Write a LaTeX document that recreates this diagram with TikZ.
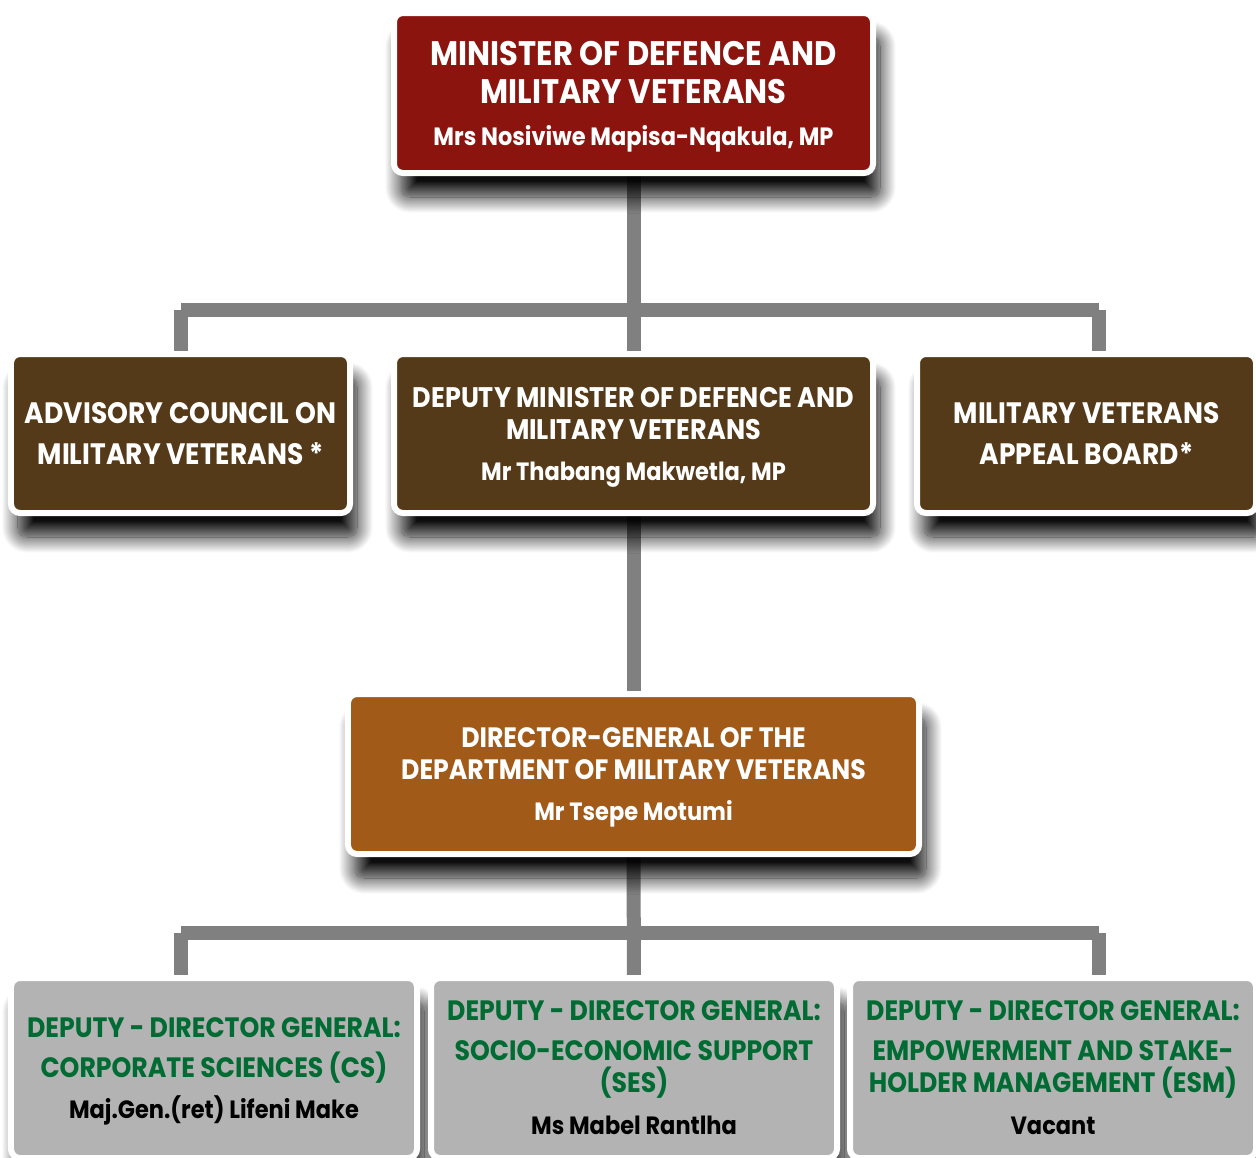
\documentclass[tikz,border=0pt]{standalone}
\usepackage{fontspec}
\setmainfont{Poppins}[FakeStretch=0.9]
\usetikzlibrary{shadows.blur}
\pgfdeclarelayer{background}
\pgfsetlayers{background,main}

\definecolor{ministerred}{HTML}{8B150E}
\definecolor{deputybrown}{HTML}{553A19}
\definecolor{dgorange}{HTML}{A15A18}
\definecolor{ddggray}{HTML}{B3B3B3}
\definecolor{ddggreen}{HTML}{006B33}
\definecolor{linegray}{HTML}{808080}

\newcommand{\namefont}{\fontsize{25bp}{30bp}\selectfont}
\newcommand{\smallname}{\fontsize{25bp}{30bp}\selectfont}

\tikzset{
  box/.style={rounded corners=9bp, draw=white, line width=6bp, align=center,
    inner sep=0pt, text=white, text depth=0pt,
    blur shadow={shadow xshift=7bp, shadow yshift=-24bp, shadow blur radius=16bp,
      shadow blur steps=24, shadow opacity=95}},
  topbox/.style={box, fill=ministerred, minimum width=479bp, minimum height=160bp,
    font=\bfseries\fontsize{34bp}{38bp}\selectfont},
  rowbox/.style={box, fill=deputybrown, minimum height=159bp,
    font=\bfseries\fontsize{29.5bp}{33bp}\selectfont},
  dgbox/.style={box, fill=dgorange, minimum width=571bp, minimum height=160bp,
    font=\bfseries\fontsize{28bp}{32bp}\selectfont},
  ddgbox/.style={box, fill=ddggray, text=ddggreen, minimum width=406bp, minimum height=180bp,
    font=\bfseries\fontsize{28bp}{32bp}\selectfont},
  link/.style={draw=linegray, line width=14bp}
}

\begin{document}
\begin{tikzpicture}[x=1bp,y=-1bp]
\useasboundingbox (0,0) rectangle (1256,1158);
% minister
\node[topbox] (1) at (633.5,93) {MINISTER OF DEFENCE AND\\MILITARY VETERANS\\[4bp]{\namefont Mrs Nosiviwe Mapisa-Nqakula, MP}};
% second row
\node[rowbox, minimum width=339bp] (2) at (180.5,433.5) {ADVISORY COUNCIL ON\\[8bp]MILITARY VETERANS *};
\node[rowbox, minimum width=479bp, font=\bfseries\fontsize{28.3bp}{32bp}\selectfont] (3) at (633.5,433.5) {DEPUTY MINISTER OF DEFENCE AND\\MILITARY VETERANS\\[9bp]{\smallname Mr Thabang Makwetla, MP}};
\node[rowbox, minimum width=339bp] (4) at (1086.5,433.5) {MILITARY VETERANS\\[8bp]APPEAL BOARD*};
% director-general
\node[dgbox] (5) at (633.5,774) {DIRECTOR-GENERAL OF THE\\DEPARTMENT OF MILITARY VETERANS\\[9bp]{\smallname Mr Tsepe Motumi}};
% deputy directors-general
\node[ddgbox] (6) at (214,1068) {DEPUTY - DIRECTOR GENERAL:\\[8bp]CORPORATE SCIENCES (CS)\\[9bp]{\color{black}\smallname Maj.Gen.(ret) Lifeni Make}};
\node[ddgbox] (7) at (634,1068) {DEPUTY - DIRECTOR GENERAL:\\[8bp]SOCIO-ECONOMIC SUPPORT\\(SES)\\[10bp]{\color{black}\smallname Ms Mabel Rantlha}};
\node[ddgbox] (8) at (1053,1068) {DEPUTY - DIRECTOR GENERAL:\\[8bp]EMPOWERMENT AND STAKE-\\HOLDER MANAGEMENT (ESM)\\[10bp]{\color{black}\smallname Vacant}};
\coordinate (a1) at (181,310);
\coordinate (a2) at (1099,310);
\coordinate (b1) at (181,933);
\coordinate (b2) at (1099,933);
\begin{pgfonlayer}{background}
\path[link] (1) -- (3);
\path[link] (a1) -- (a2);
\path[link] (a1) -- (a1 |- 2.north);
\path[link] (a2) -- (a2 |- 4.north);
\path[link] (3) -- (5);
\path[link] (5) -- (7);
\path[link] (b1) -- (b2);
\path[link] (b1) -- (b1 |- 6.north);
\path[link] (b2) -- (b2 |- 8.north);
\end{pgfonlayer}
\end{tikzpicture}
\end{document}
